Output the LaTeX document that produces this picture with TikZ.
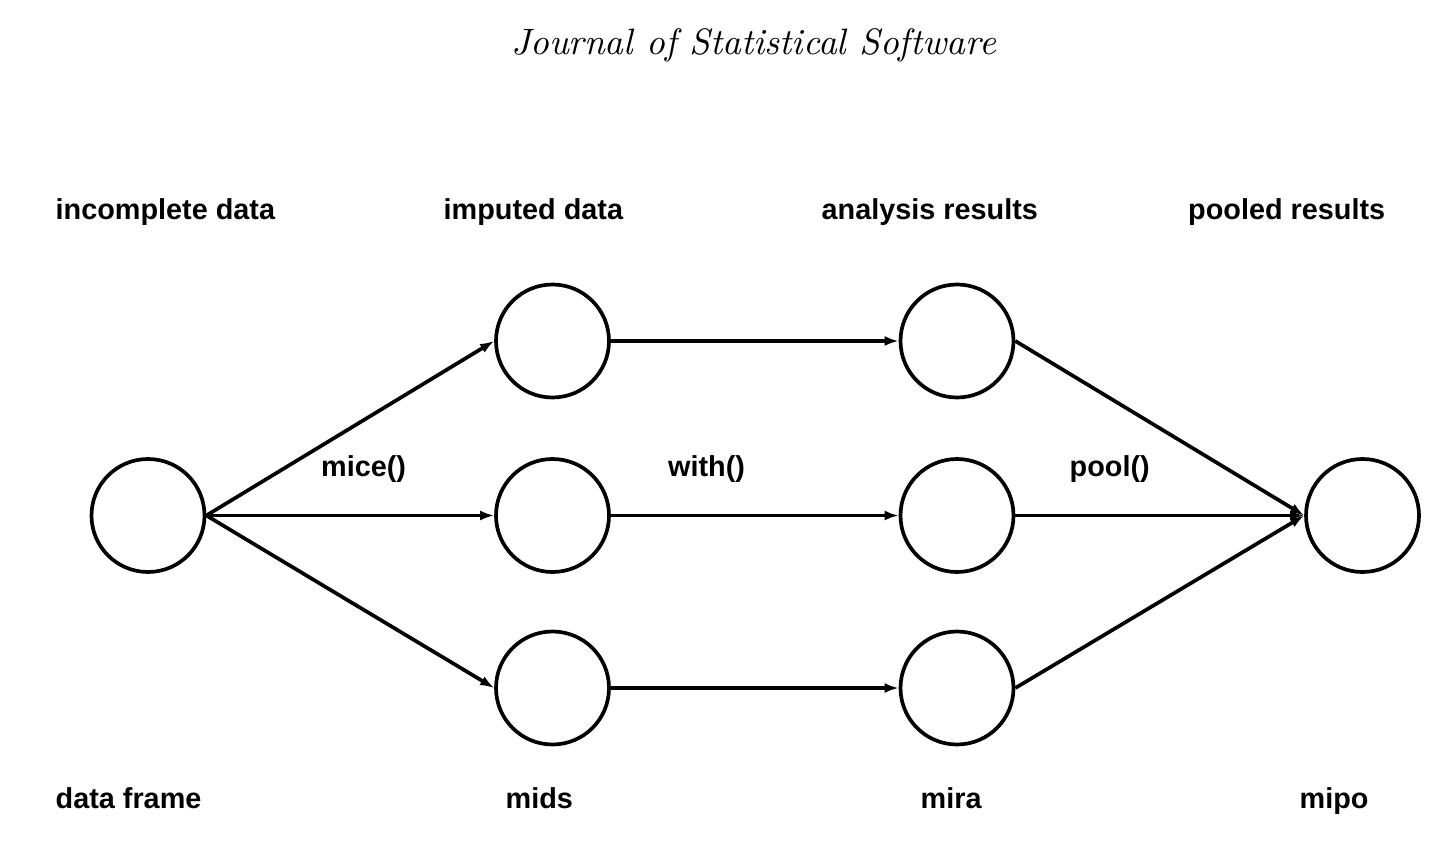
\documentclass[tikz,border=0pt]{standalone}
\usepackage{fontspec}
\newfontfamily\lblfont{Liberation Sans}
\usetikzlibrary{arrows.meta}
\begin{document}
\begin{tikzpicture}[
    obj/.style={circle, draw, line width=1.05pt, minimum size=1.13cm, inner sep=0pt},
    flow/.style={line width=1.05pt, -{Latex[length=1.4mm, width=1mm]}},
    lbl/.style={anchor=base west, inner sep=0pt, font=\lblfont\bfseries\fontsize{8.2}{9.8}\selectfont}
  ]
  \useasboundingbox (0, 0) rectangle (14.38, -8.49);
  \node [anchor=base, inner sep=0pt, font=\itshape\fontsize{10.45}{12}\selectfont] (title) at (7.535, -0.55) {Journal of Statistical Software};

  \node [obj] (df) at (1.48, -5.155) {};
  \node [obj] (ida) at (5.525, -3.41) {};
  \node [obj] (idb) at (5.525, -5.155) {};
  \node [obj] (idc) at (5.525, -6.88) {};
  \node [obj] (ara) at (9.57, -3.41) {};
  \node [obj] (arb) at (9.57, -5.155) {};
  \node [obj] (arc) at (9.57, -6.88) {};
  \node [obj] (pr) at (13.625, -5.155) {};

  \draw [flow] (df.east) -- (ida.west);
  \draw [flow] (df.east) -- (idb.west);
  \draw [flow] (df.east) -- (idc.west);
  \draw [flow] (ida.east) -- (ara.west);
  \draw [flow] (idb.east) -- (arb.west);
  \draw [flow] (idc.east) -- (arc.west);
  \draw [flow] (ara.east) -- (pr.west);
  \draw [flow] (arb.east) -- (pr.west);
  \draw [flow] (arc.east) -- (pr.west);

  \node [lbl] (incl) at (0.55, -2.19) {incomplete data};
  \node [lbl] (impl) at (4.43, -2.19) {imputed data};
  \node [lbl] (anal) at (8.21, -2.19) {analysis results};
  \node [lbl] (pool) at (11.875, -2.19) {pooled results};
  \node [lbl] (micel) at (3.205, -4.765) {mice()};
  \node [lbl] (withl) at (6.675, -4.765) {with()};
  \node [lbl] (pooll) at (10.69, -4.765) {pool()};
  \node [lbl] (dfl) at (0.55, -8.08) {data frame};
  \node [lbl] (midsl) at (5.05, -8.08) {mids};
  \node [lbl] (miral) at (9.2, -8.08) {mira};
  \node [lbl] (mipol) at (12.99, -8.08) {mipo};
\end{tikzpicture}
\end{document}
